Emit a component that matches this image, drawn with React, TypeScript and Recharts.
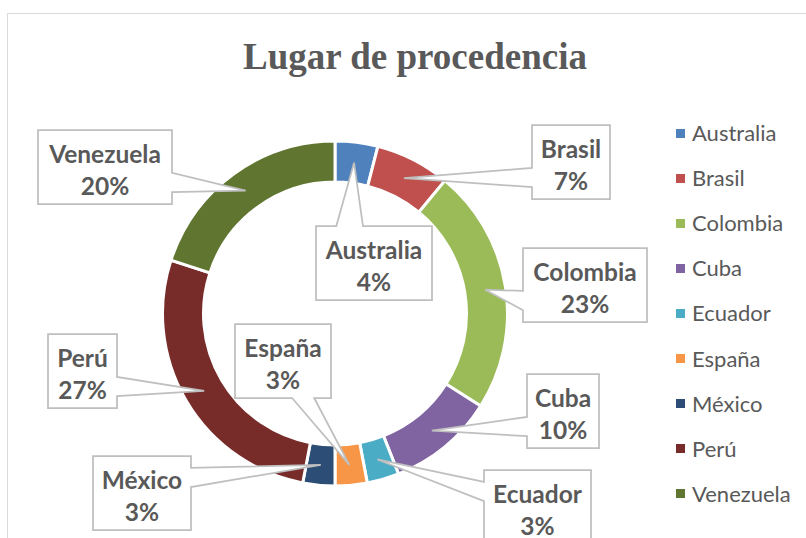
import { Legend, Pie, PieChart } from "recharts";

const countries = ["Australia", "Brasil", "Colombia", "Cuba", "Ecuador", "España", "México", "Perú", "Venezuela"];
const shares = [4, 7, 23, 10, 3, 3, 3, 27, 20];
const sliceColors = ["#4F81BD", "#C0504D", "#9BBB59", "#8064A2", "#4BACC6", "#F79646", "#2C4D75", "#772C2A", "#5F7530"];

// callout boxes, offsets from the pie center: [dx, dy, width]
const calloutBoxes: [number, number, number][] = [
  [-19, -87.5, 116],
  [197, -188.5, 78],
  [188, -65.5, 124],
  [192, 60.5, 72],
  [149, 156.5, 107],
  [-100, 10.5, 96],
  [-242, 142.5, 98],
  [-287, 20.5, 69],
  [-297, -183.5, 134],
];

const BOX_H = 74;
const CX = 335;
const CY = 313.5;
const OUTER_R = 172.5;
const INNER_R = 131.5;
const TEXT_COLOR = "#595959";
const LABEL_FONT = "Lato, 'Open Sans', sans-serif";
const RAD = Math.PI / 180;

const data = countries.map((name, i) => ({ name, value: shares[i], fill: sliceColors[i] }));

function calloutPath(x: number, y: number, w: number, h: number, tx: number, ty: number) {
  const r = x + w;
  const b = y + h;
  const ex = tx < x ? x - tx : tx > r ? tx - r : 0;
  const ey = ty < y ? y - ty : ty > b ? ty - b : 0;
  let side: "left" | "right" | "top" | "bottom";
  if (ex >= ey) {
    side = tx < x ? "left" : "right";
  } else {
    side = ty < y ? "top" : "bottom";
  }

  let p1 = 0;
  let p2 = 0;
  if (side === "left" || side === "right") {
    const c = y + ((ty - y) / h < 0.5 ? 0.29 : 0.71) * h;
    const len = h * 0.26;
    p1 = c - len / 2;
    p2 = c + len / 2;
  } else {
    const c = x + ((tx - x) / w < 0.5 ? 0.29 : 0.71) * w;
    const len = w * 0.23;
    p1 = c - len / 2;
    p2 = c + len / 2;
  }

  let d = `M${x},${y}`;
  if (side === "top") d += ` L${p1},${y} L${tx},${ty} L${p2},${y}`;
  d += ` L${r},${y}`;
  if (side === "right") d += ` L${r},${p1} L${tx},${ty} L${r},${p2}`;
  d += ` L${r},${b}`;
  if (side === "bottom") d += ` L${p2},${b} L${tx},${ty} L${p1},${b}`;
  d += ` L${x},${b}`;
  if (side === "left") d += ` L${x},${p2} L${tx},${ty} L${x},${p1}`;
  d += " Z";
  return d;
}

function renderCallout(props: any) {
  const { cx, cy, midAngle, innerRadius, outerRadius, percent, index, name } = props;
  const box = calloutBoxes[index];
  if (!box) {
    return null;
  }
  const midR = (innerRadius + outerRadius) / 2;
  const tx = cx + midR * Math.cos(-midAngle * RAD);
  const ty = cy + midR * Math.sin(-midAngle * RAD);
  const x = cx + box[0];
  const y = cy + box[1];
  const w = box[2];

  return (
    <g key={`callout-${index}`}>
      <path d={calloutPath(x, y, w, BOX_H, tx, ty)} fill="#ffffff" stroke="#bfbfbf" strokeWidth={1.75} strokeLinejoin="miter" />
      <text
        x={x + w / 2}
        y={y + 23}
        textAnchor="middle"
        dominantBaseline="central"
        fill={TEXT_COLOR}
        fontFamily={LABEL_FONT}
        fontWeight={700}
        fontSize={24.5}
      >
        {name}
      </text>
      <text
        x={x + w / 2}
        y={y + 55}
        textAnchor="middle"
        dominantBaseline="central"
        fill={TEXT_COLOR}
        fontFamily={LABEL_FONT}
        fontWeight={700}
        fontSize={24.5}
      >
        {`${Math.round(percent * 100)}%`}
      </text>
    </g>
  );
}

function renderLegend(props: any) {
  const items = props.payload || [];
  return (
    <div>
      {items.map((item: any) => (
        <div key={item.value} style={{ height: 45.1, display: "flex", alignItems: "center" }}>
          <span style={{ width: 9, height: 9, background: item.color, display: "inline-block", marginRight: 7 }} />
          <span style={{ color: TEXT_COLOR, fontFamily: LABEL_FONT, fontSize: 22, lineHeight: "22px" }}>{item.value}</span>
        </div>
      ))}
    </div>
  );
}

export default function App() {
  return (
    <div style={{ position: "fixed", left: 0, top: 0, width: 806, height: 538, overflow: "hidden", background: "#ffffff" }}>
      <div
        style={{
          position: "absolute",
          left: 7,
          top: 13,
          width: 900,
          height: 600,
          border: "1px solid #d9d9d9",
        }}
      />
      <div
        style={{
          position: "absolute",
          left: 0,
          top: 35,
          width: 830,
          textAlign: "center",
          fontFamily: "'Liberation Serif', 'Times New Roman', serif",
          fontWeight: 700,
          fontSize: 37,
          lineHeight: "44px",
          color: TEXT_COLOR,
        }}
      >
        Lugar de procedencia
      </div>
      <div style={{ position: "absolute", left: 0, top: 0 }}>
        <PieChart width={806} height={538} margin={{ top: 0, right: 0, bottom: 0, left: 0 }}>
          <Pie
            data={data}
            dataKey="value"
            nameKey="name"
            cx={CX}
            cy={CY}
            innerRadius={INNER_R}
            outerRadius={OUTER_R}
            startAngle={90}
            endAngle={-270}
            stroke="#ffffff"
            strokeWidth={3}
            label={renderCallout}
            labelLine={false}
            isAnimationActive={false}
          />
          <Legend
            layout="vertical"
            content={renderLegend}
            wrapperStyle={{ position: "absolute", left: 676, top: 110.5, width: 130 }}
          />
        </PieChart>
      </div>
    </div>
  );
}
